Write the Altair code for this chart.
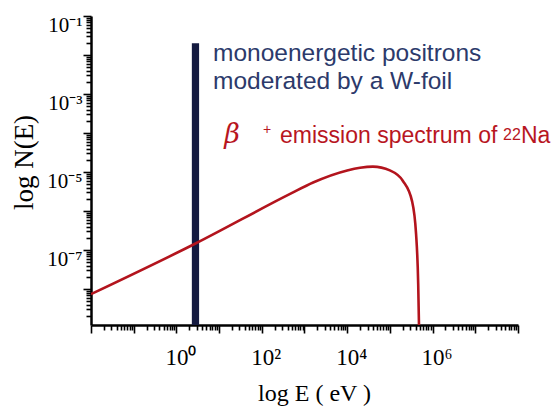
import altair as alt
import pandas as pd

# ---------------- data ----------------
# beta+ emission spectrum of 22Na (energy in eV, relative intensity)
spec_energy = [0.01, 2.73, 460, 1590, 10000, 20000, 40000, 100000, 200000, 330000, 410000, 460000, 480000]
spec_counts = [7.4e-9, 1.45e-7, 2.75e-6, 5.4e-6, 1.1e-5, 1.29e-5, 1.38e-5, 1.1e-5, 6.0e-6, 1.8e-6, 2.6e-7, 1.35e-8, 1.2e-9]

# monoenergetic (moderated) positron line
mono_e_lo = [2.3]
mono_e_hi = [3.4]
mono_top = [0.02]

# axis ranges and labels
x_min, x_max = 0.01, 1e8
y_min, y_max = 1.2e-9, 0.1
x_label_vals = [1.0, 100.0, 10000.0, 1000000.0]
x_label_txt = ["10\u2070", "10\u00b2", "10\u2074", "10\u2076"]
y_label_vals = [0.1, 0.001, 1e-05, 1e-07]
y_label_txt = ["10\u207b\u00b9", "10\u207b\u00b3", "10\u207b\u2075", "10\u207b\u2077"]

# annotation texts (anchor energy, anchor intensity)
blue_lines = ["monoenergetic positrons", "moderated by a W-foil"]
blue_e = [7.2, 7.2]
blue_n = [7.0e-3, 1.35e-3]

red_parts = ["\u03b2", "+", "emission spectrum of", "22", "Na"]
red_e = [13.2, 107, 267, 4.46e7, 1.175e8]
red_n = [5.7e-5, 9.5e-5, 5.7e-5, 6.8e-5, 5.7e-5]

# ---------------- ticks ----------------
x_majors = [float(f"1e{k}") for k in range(-2, 9)]
x_ticks = x_majors + [m * float(f"1e{k}") for k in range(-2, 8) for m in range(2, 10)]
y_majors = [float(f"1e{k}") for k in range(-9, 0)]
y_ticks = [v for v in y_majors + [m * float(f"1e{k}") for k in range(-9, -1) for m in range(2, 10)]
           if y_min <= v <= y_max]


def label_expr(vals, txts):
    expr = "''"
    for v, t in reversed(list(zip(vals, txts))):
        expr = f"datum.value == {v!r} ? '{t}' : ({expr})"
    return expr


major_test = "abs(log(datum.value)/LN10 - round(log(datum.value)/LN10)) < 0.001"

x_scale = alt.Scale(type="log", domain=[x_min, x_max], nice=False)
y_scale = alt.Scale(type="log", domain=[y_min, y_max], nice=False)

W, H = 427, 309

x_axis = alt.Axis(
    values=x_ticks, grid=False, labelExpr=label_expr(x_label_vals, x_label_txt),
    tickSize={"condition": {"test": major_test, "value": 8}, "value": 5},
    tickWidth=1.6, tickColor="black", domainColor="black", domainWidth=2.5,
    labelFont="Liberation Serif", labelFontSize=23, labelColor="black",
    labelPadding=13, labelOffset=4, labelOverlap=False, labelFlush=False, labelBound=False,
    title="log E ( eV )", titleFont="Liberation Serif", titleFontSize=24,
    titleFontWeight="normal", titleColor="black",
    titleX=223, titleY=75, titleAlign="center", titleBaseline="alphabetic",
)
y_axis = alt.Axis(
    values=y_ticks, grid=False, labelExpr=label_expr(y_label_vals, y_label_txt),
    tickSize={"condition": {"test": major_test, "value": 8}, "value": 5},
    tickWidth=1.6, tickColor="black", domainColor="black", domainWidth=2.5,
    labelFont="Liberation Serif", labelFontSize=21, labelColor="black",
    labelPadding=1, labelOffset=9, labelOverlap=False, labelFlush=False, labelBound=False,
    title="log  N(E)", titleFont="Liberation Serif", titleFontSize=27,
    titleFontWeight="normal", titleColor="black",
    titleX=-67, titleY=146, titleAlign="center", titleBaseline="middle", titleAngle=-90,
)

spec_df = pd.DataFrame({"E": spec_energy, "N": spec_counts})
mono_df = pd.DataFrame({"E1": mono_e_lo, "E2": mono_e_hi, "N1": [y_min], "N2": mono_top})
blue_df = pd.DataFrame({"E": blue_e, "N": blue_n, "t": blue_lines})
red_df = pd.DataFrame({"E": red_e, "N": red_n, "t": red_parts})

mono = alt.Chart(mono_df).mark_rect(color="#141a40").encode(
    x=alt.X("E1:Q", scale=x_scale, axis=x_axis),
    x2="E2:Q",
    y=alt.Y("N1:Q", scale=y_scale, axis=y_axis),
    y2="N2:Q",
)

spec = alt.Chart(spec_df).mark_line(color="#b3141d", strokeWidth=2.6, interpolate="monotone", clip=True).encode(
    x=alt.X("E:Q", scale=x_scale),
    y=alt.Y("N:Q", scale=y_scale),
)

blue_txt = alt.Chart(blue_df).mark_text(
    align="left", baseline="alphabetic", font="Liberation Sans", fontSize=24.5, color="#2c3a6b"
).encode(x=alt.X("E:Q", scale=x_scale), y=alt.Y("N:Q", scale=y_scale), text="t:N")


def red_layer(i, **kw):
    return alt.Chart(red_df.iloc[[i]]).mark_text(
        align="left", baseline="alphabetic", color="#b8161f", **kw
    ).encode(x=alt.X("E:Q", scale=x_scale), y=alt.Y("N:Q", scale=y_scale), text="t:N")


red_beta = red_layer(0, font="DejaVu Serif", fontSize=27, fontStyle="italic")
red_plus = red_layer(1, font="Liberation Sans", fontSize=14)
red_main = red_layer(2, font="Liberation Sans", fontSize=23)
red_22 = red_layer(3, font="Liberation Sans", fontSize=16)
red_na = red_layer(4, font="Liberation Sans", fontSize=23)

chart = alt.layer(mono, spec, blue_txt, red_beta, red_plus, red_main, red_22, red_na).properties(
    width=W, height=H,
    autosize=alt.AutoSizeParams(type="none"),
    padding={"left": 91, "top": 16, "right": 552 - 91 - W, "bottom": 410 - 16 - H},
    background="white",
).configure_view(stroke=None)

chart.save("out.html", embed_options={"renderer": "svg", "actions": False})
